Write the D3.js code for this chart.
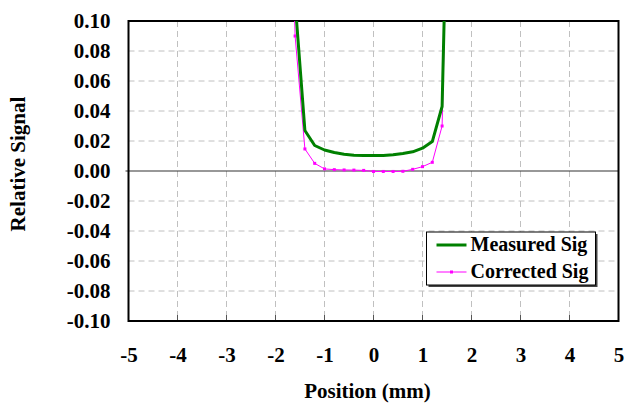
<!DOCTYPE html>
<html>
<head>
<meta charset="utf-8">
<script src="https://cdn.jsdelivr.net/npm/d3@7"></script>
<style>
  body { margin: 0; background: #fff; }
</style>
</head>
<body>
<div id="chart"></div>
<script>
// data
var positions = [-1.8, -1.6, -1.4, -1.2, -1.0, -0.8, -0.6, -0.4, -0.2, 0, 0.2, 0.4, 0.6, 0.8, 1.0, 1.2, 1.4, 1.6];
var measuredSig = [0.35, 0.113, 0.027, 0.017, 0.014, 0.0123, 0.0112, 0.0105, 0.0103, 0.0103, 0.0104, 0.0108, 0.0117, 0.0128, 0.0152, 0.0196, 0.043, 0.32];
var correctedSig = [0.33, 0.090, 0.0147, 0.0051, 0.0014, 0.0009, 0.0007, 0.0006, 0.0004, -0.0003, -0.0003, -0.0003, -0.0002, 0.0011, 0.0029, 0.0058, 0.030, 0.30];
var xTicks = [-5, -4, -3, -2, -1, 0, 1, 2, 3, 4, 5];
var yTicks = [-0.10, -0.08, -0.06, -0.04, -0.02, 0, 0.02, 0.04, 0.06, 0.08, 0.10];
var seriesNames = ["Measured Sig", "Corrected Sig"];

var FONT = "'Times New Roman', 'Liberation Serif', 'Tinos', 'Noto Serif', 'DejaVu Serif', serif";

// set the dimensions and margins of the graph
var W = 626, H = 403;
var margin = {top: 21, right: 7.5, bottom: 82, left: 128.5},
    width = W - margin.left - margin.right,
    height = H - margin.top - margin.bottom;

var svg = d3.select("#chart")
  .append("svg")
    .attr("width", W)
    .attr("height", H)
    .attr("font-family", FONT)
    .attr("font-weight", "bold")
  .append("g")
    .attr("transform", "translate(" + margin.left + "," + margin.top + ")");

var x = d3.scaleLinear().domain([-5, 5]).range([0, width]);
var y = d3.scaleLinear().domain([-0.1, 0.1]).range([height, 0]);

// grid lines
svg.append("g")
  .selectAll("line")
  .data(xTicks.slice(1, -1))
  .enter().append("line")
    .attr("x1", function(d) { return x(d); })
    .attr("x2", function(d) { return x(d); })
    .attr("y1", 0).attr("y2", height)
    .attr("stroke", "#c0c0c0")
    .attr("stroke-dasharray", "6,4");

svg.append("g")
  .selectAll("line")
  .data(yTicks.filter(function(d) { return d !== 0 && Math.abs(d) < 0.099; }))
  .enter().append("line")
    .attr("x1", 0).attr("x2", width)
    .attr("y1", function(d) { return y(d); })
    .attr("y2", function(d) { return y(d); })
    .attr("stroke", "#c0c0c0")
    .attr("stroke-dasharray", "6,4");

// zero line
svg.append("line")
  .attr("x1", -3).attr("x2", width)
  .attr("y1", y(0)).attr("y2", y(0))
  .attr("stroke", "#333").attr("stroke-width", 1.2);

// small ticks on the bottom edge
svg.append("g")
  .selectAll("line")
  .data(xTicks)
  .enter().append("line")
    .attr("x1", function(d) { return x(d); })
    .attr("x2", function(d) { return x(d); })
    .attr("y1", height - 6).attr("y2", height)
    .attr("stroke", "#555");

// frame
svg.append("rect")
  .attr("x", 0).attr("y", 0)
  .attr("width", width).attr("height", height)
  .attr("fill", "none")
  .attr("stroke", "#000")
  .attr("stroke-width", 2);

// tick labels via d3 axes
var yAxis = svg.append("g")
  .call(d3.axisLeft(y).tickValues(yTicks).tickFormat(d3.format(".2f")).tickSize(0).tickPadding(18));
var xAxis = svg.append("g")
  .attr("transform", "translate(0," + height + ")")
  .call(d3.axisBottom(x).tickValues(xTicks).tickFormat(d3.format("d")).tickSize(0).tickPadding(26));
[yAxis, xAxis].forEach(function(a) {
  a.attr("font-family", FONT).attr("font-size", "21px");
  a.select(".domain").remove();
  a.selectAll("text").attr("fill", "#000").attr("font-weight", "bold");
});
yAxis.selectAll("text").text(function(d) { return d3.format(".2f")(d).replace("−", "-"); });
xAxis.selectAll("text").text(function(d) { return String(d); });

// clip for series
svg.append("clipPath").attr("id", "clip")
  .append("rect").attr("x", 0).attr("y", 0).attr("width", width).attr("height", height);

var line = d3.line()
  .x(function(d) { return x(d[0]); })
  .y(function(d) { return y(d[1]); });

var plot = svg.append("g").attr("clip-path", "url(#clip)");

plot.append("path")
  .datum(positions.map(function(p, i) { return [p, correctedSig[i]]; }))
  .attr("d", line)
  .attr("fill", "none")
  .attr("stroke", "#ff00ff")
  .attr("stroke-width", 1);

plot.append("g")
  .selectAll("rect")
  .data(positions.map(function(p, i) { return [p, correctedSig[i]]; }))
  .enter().append("rect")
    .attr("x", function(d) { return x(d[0]) - 1.5; })
    .attr("y", function(d) { return y(d[1]) - 1.5; })
    .attr("width", 3).attr("height", 3)
    .attr("fill", "#ff00ff");

plot.append("path")
  .datum(positions.map(function(p, i) { return [p, measuredSig[i]]; }))
  .attr("d", line)
  .attr("fill", "none")
  .attr("stroke", "#008000")
  .attr("stroke-width", 3)
  .attr("stroke-linejoin", "round");

// legend
var lg = svg.append("g").attr("transform", "translate(" + (426.5 - margin.left) + "," + (232 - margin.top) + ")");
lg.append("rect")
  .attr("x", 2).attr("y", 2).attr("width", 169).attr("height", 53)
  .attr("fill", "#444");
lg.append("rect")
  .attr("x", 0).attr("y", 0).attr("width", 169).attr("height", 53)
  .attr("fill", "#fff").attr("stroke", "#000").attr("stroke-width", 1);
var colors = ["#008000", "#ff00ff"];
seriesNames.forEach(function(name, i) {
  var yy = 13 + i * 27;
  lg.append("line")
    .attr("x1", 10).attr("x2", 40).attr("y1", yy).attr("y2", yy)
    .attr("stroke", colors[i]).attr("stroke-width", i === 0 ? 3 : 1);
  if (i === 1) {
    lg.append("rect").attr("x", 23.5).attr("y", yy - 1.5).attr("width", 3).attr("height", 3).attr("fill", colors[i]);
  }
  lg.append("text")
    .attr("x", 44).attr("y", yy + 6)
    .attr("font-size", "20px")
    .text(name);
});

// axis titles
svg.append("text")
  .attr("x", x(0) - 6).attr("y", height + 77)
  .attr("text-anchor", "middle")
  .attr("font-size", "21px")
  .text("Position (mm)");

svg.append("text")
  .attr("transform", "translate(" + (25 - margin.left) + "," + (y(0) - 7) + ") rotate(-90)")
  .attr("text-anchor", "middle")
  .attr("font-size", "21px")
  .text("Relative Signal");
</script>
</body>
</html>
